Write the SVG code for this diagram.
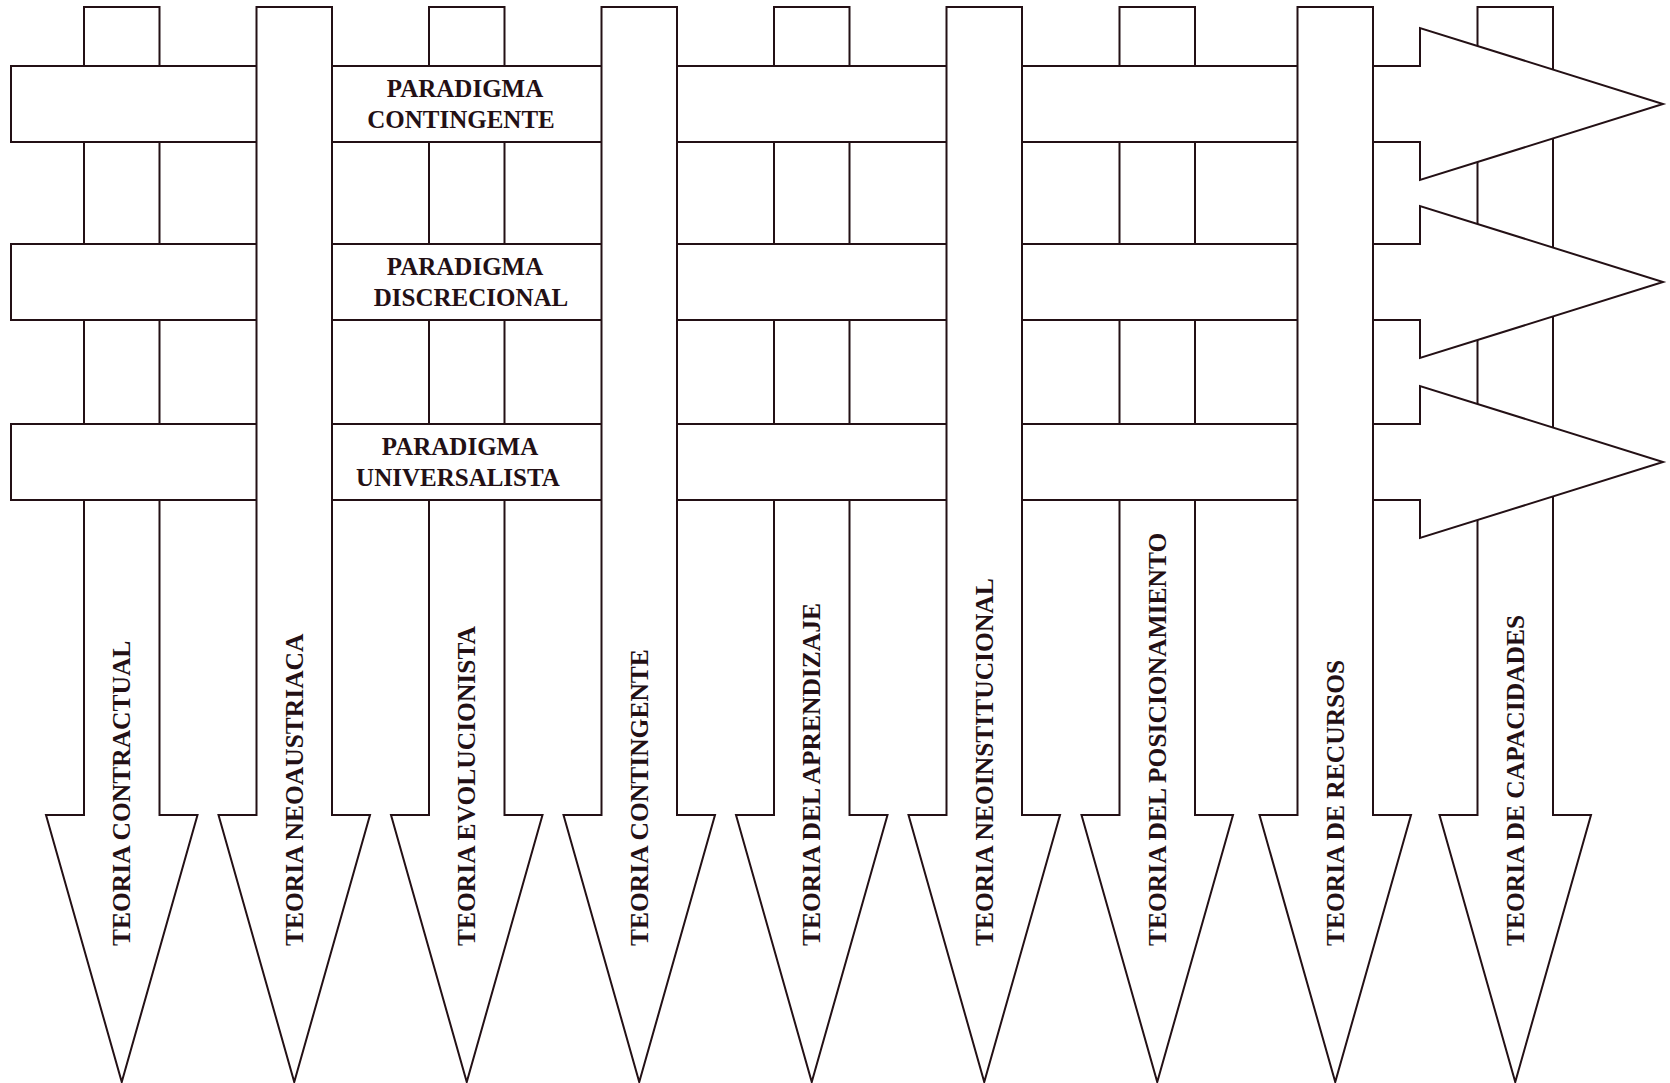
<svg xmlns="http://www.w3.org/2000/svg" width="1670" height="1083" viewBox="0 0 1670 1083">
  <style>
    .shape { fill: #ffffff; stroke: #231015; stroke-width: 2; stroke-linejoin: miter; }
    .vlabel { font-family: "Liberation Serif", "Times New Roman", serif; font-weight: bold; font-size: 25.5px; fill: #231015; }
    .hlabel { font-family: "Liberation Serif", "Times New Roman", serif; font-weight: bold; font-size: 25px; fill: #231015; text-anchor: middle; }
  </style>
  <defs>
    <!-- downward theory arrow, shaft 75.5 wide, origin at shaft top-left -->
    <path id="down-arrow" d="M0,0 H75.5 V808 H113.5 L37.75,1075 L-38,808 H0 Z"/>
    <!-- rightward paradigm arrow, origin at band top-left -->
    <path id="right-arrow" d="M0,0 H1409 V-38 L1652,38 L1409,114 V76 H0 Z"/>
  </defs>
  <rect width="1670" height="1083" fill="#ffffff"/>

  <!-- theories woven under the paradigm bands -->
  <g id="theory-contractual">
    <use href="#down-arrow" class="shape" x="84" y="7"/>
    <text class="vlabel" transform="translate(130,946) rotate(-90)">TEORIA CONTRACTUAL</text>
  </g>
  <g id="theory-evolucionista">
    <use href="#down-arrow" class="shape" x="429" y="7"/>
    <text class="vlabel" transform="translate(475,946) rotate(-90)">TEORIA EVOLUCIONISTA</text>
  </g>
  <g id="theory-aprendizaje">
    <use href="#down-arrow" class="shape" x="774" y="7"/>
    <text class="vlabel" transform="translate(820,946) rotate(-90)">TEORIA DEL APRENDIZAJE</text>
  </g>
  <g id="theory-posicionamiento">
    <use href="#down-arrow" class="shape" x="1119.5" y="7"/>
    <text class="vlabel" transform="translate(1165.5,946) rotate(-90)">TEORIA DEL POSICIONAMIENTO</text>
  </g>
  <g id="theory-capacidades">
    <use href="#down-arrow" class="shape" x="1477.5" y="7"/>
    <text class="vlabel" transform="translate(1523.5,946) rotate(-90)">TEORIA DE CAPACIDADES</text>
  </g>

  <!-- paradigm bands -->
  <g id="paradigm-contingente">
    <use href="#right-arrow" class="shape" x="11" y="66"/>
    <text class="hlabel" x="465" y="97">PARADIGMA</text>
    <text class="hlabel" x="461" y="127.7">CONTINGENTE</text>
  </g>
  <g id="paradigm-discrecional">
    <use href="#right-arrow" class="shape" x="11" y="244"/>
    <text class="hlabel" x="465" y="275">PARADIGMA</text>
    <text class="hlabel" x="471" y="305.7">DISCRECIONAL</text>
  </g>
  <g id="paradigm-universalista">
    <use href="#right-arrow" class="shape" x="11" y="424"/>
    <text class="hlabel" x="460" y="455">PARADIGMA</text>
    <text class="hlabel" x="458" y="485.7">UNIVERSALISTA</text>
  </g>

  <!-- theories woven over the paradigm bands -->
  <g id="theory-neoaustriaca">
    <use href="#down-arrow" class="shape" x="256.5" y="7"/>
    <text class="vlabel" transform="translate(302.5,946) rotate(-90)">TEORIA NEOAUSTRIACA</text>
  </g>
  <g id="theory-contingente">
    <use href="#down-arrow" class="shape" x="601.5" y="7"/>
    <text class="vlabel" transform="translate(647.5,946) rotate(-90)">TEORIA CONTINGENTE</text>
  </g>
  <g id="theory-neoinstitucional">
    <use href="#down-arrow" class="shape" x="946.5" y="7"/>
    <text class="vlabel" transform="translate(992.5,946) rotate(-90)">TEORIA NEOINSTITUCIONAL</text>
  </g>
  <g id="theory-recursos">
    <use href="#down-arrow" class="shape" x="1297.5" y="7"/>
    <text class="vlabel" transform="translate(1343.5,946) rotate(-90)">TEORIA DE RECURSOS</text>
  </g>

  <g id="connectors"/>
</svg>
